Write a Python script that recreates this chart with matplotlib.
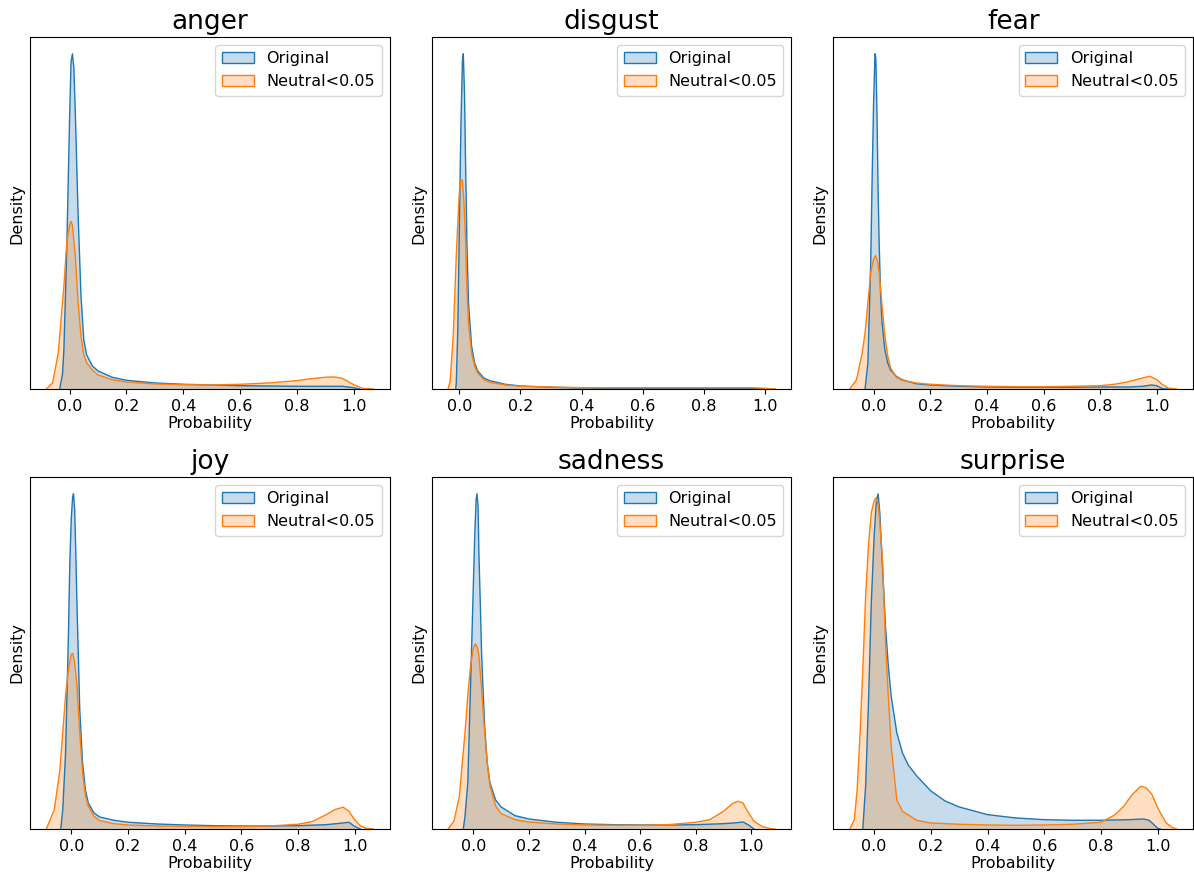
import matplotlib
matplotlib.use("Agg")
import matplotlib.pyplot as plt
from matplotlib.patches import Patch

plt.rcParams['font.family'] = ['DejaVu Sans']

EMOTIONS = ["anger", "disgust", "fear", "joy", "sadness", "surprise"]
SERIES_LABELS = ["Original", "Neutral<0.05"]
COLORS = ["#1f77b4", "#ff7f0e"]
XTICKS = [0.0, 0.2, 0.4, 0.6, 0.8, 1.0]

# Density curves (x = probability, y = density, arbitrary units)
ORIG_X = {
    "anger": [-0.035, -0.025, -0.02, -0.01, 0.0, 0.005, 0.01, 0.015, 0.02, 0.03, 0.04, 0.05, 0.06, 0.08, 0.1,
              0.15, 0.2, 0.3, 0.4, 0.5, 0.6, 0.7, 0.8, 0.9, 0.96, 1.0, 1.02],
    "disgust": [-0.012, -0.01, -0.005, 0.0, 0.005, 0.01, 0.013, 0.017, 0.02, 0.025, 0.03, 0.04, 0.05, 0.06, 0.08,
                0.1, 0.15, 0.2, 0.3, 0.4, 0.5, 0.7, 0.95, 1.0, 1.033],
    "fear": [-0.03, -0.02, -0.01, -0.005, 0.0, 0.005, 0.008, 0.012, 0.016, 0.02, 0.025, 0.03, 0.04, 0.05, 0.06,
             0.08, 0.1, 0.15, 0.2, 0.3, 0.4, 0.5, 0.7, 0.8, 0.9, 0.95, 0.98, 1.0, 1.02, 1.04],
    "joy": [-0.037, -0.03, -0.02, -0.01, -0.005, 0.0, 0.005, 0.008, 0.012, 0.016, 0.02, 0.025, 0.03, 0.04, 0.05,
            0.06, 0.08, 0.1, 0.15, 0.2, 0.3, 0.4, 0.5, 0.6, 0.7, 0.8, 0.9, 0.95, 0.98, 1.0, 1.02],
    "sadness": [-0.036, -0.03, -0.02, -0.01, 0.0, 0.005, 0.01, 0.013, 0.017, 0.02, 0.025, 0.03, 0.04, 0.05, 0.06,
                0.08, 0.1, 0.15, 0.2, 0.3, 0.4, 0.5, 0.6, 0.7, 0.8, 0.9, 0.95, 0.97, 0.99, 1.01],
    "surprise": [-0.04, -0.03, -0.02, -0.01, 0.0, 0.008, 0.014, 0.02, 0.03, 0.04, 0.05, 0.06, 0.08, 0.1, 0.12,
                 0.15, 0.2, 0.25, 0.3, 0.4, 0.5, 0.6, 0.7, 0.8, 0.9, 0.95, 0.97, 1.0, 1.01],
}
ORIG_Y = {
    "anger": [0, 1.5, 4.0, 14.0, 27.0, 32.6, 33.4, 32.0, 27.6, 17.3, 9.3, 4.9, 3.4, 2.3, 1.8,
              1.17, 0.87, 0.6, 0.47, 0.4, 0.33, 0.3, 0.27, 0.27, 0.27, 0.13, 0],
    "disgust": [0, 0.6, 6.0, 16.0, 26.0, 32.6, 33.4, 29.3, 23.3, 14.3, 8.6, 4.3, 2.6, 1.8, 1.1,
                0.83, 0.47, 0.3, 0.17, 0.1, 0.07, 0.07, 0.07, 0.03, 0],
    "fear": [0, 2.6, 12.6, 21.0, 28.3, 33.4, 33.0, 27.6, 19.9, 14.3, 9.3, 6.6, 3.9, 2.6, 1.9,
             1.27, 0.93, 0.53, 0.4, 0.27, 0.2, 0.17, 0.17, 0.2, 0.2, 0.27, 0.4, 0.33, 0.03, 0],
    "joy": [0, 1.9, 7.6, 19.3, 26.6, 30.9, 33.1, 33.4, 31.9, 27.6, 22.6, 17.3, 11.9, 6.6, 3.9,
            2.6, 1.6, 1.2, 0.87, 0.67, 0.5, 0.4, 0.33, 0.3, 0.3, 0.33, 0.43, 0.57, 0.67, 0.27, 0],
    "sadness": [0, 1.27, 4.6, 14.3, 24.3, 29.3, 32.9, 33.5, 32.3, 27.6, 22.6, 17.3, 10.6, 6.6, 4.6,
                2.9, 2.2, 1.33, 1.0, 0.67, 0.5, 0.43, 0.4, 0.4, 0.43, 0.53, 0.63, 0.7, 0.4, 0],
    "surprise": [0, 4.3, 12.6, 22.6, 29.3, 32.8, 33.5, 31.6, 25.9, 20.3, 16.3, 13.3, 9.6, 7.6, 6.4,
                 5.3, 3.8, 2.8, 2.2, 1.43, 1.1, 0.93, 0.87, 0.87, 0.93, 1.0, 0.87, 0.07, 0],
}
NEUT_X = {
    "anger": [-0.082, -0.06, -0.04, -0.02, -0.01, 0.0, 0.005, 0.01, 0.02, 0.03, 0.04, 0.05, 0.06, 0.08, 0.1,
              0.15, 0.2, 0.3, 0.4, 0.5, 0.6, 0.7, 0.8, 0.85, 0.9, 0.93, 0.96, 1.0, 1.03, 1.069],
    "disgust": [-0.037, -0.03, -0.02, -0.01, -0.005, 0.0, 0.005, 0.01, 0.015, 0.02, 0.025, 0.03, 0.04, 0.05,
                0.06, 0.08, 0.1, 0.15, 0.2, 0.3, 0.4, 0.7, 0.95, 1.0, 1.033],
    "fear": [-0.084, -0.06, -0.04, -0.03, -0.02, -0.01, 0.0, 0.007, 0.015, 0.02, 0.03, 0.04, 0.05, 0.06, 0.08,
             0.1, 0.15, 0.2, 0.3, 0.4, 0.5, 0.6, 0.7, 0.8, 0.85, 0.9, 0.95, 0.975, 1.0, 1.02, 1.04, 1.07],
    "joy": [-0.088, -0.06, -0.04, -0.03, -0.02, -0.01, 0.0, 0.005, 0.01, 0.015, 0.02, 0.03, 0.04, 0.05, 0.06,
            0.08, 0.1, 0.15, 0.2, 0.3, 0.4, 0.5, 0.6, 0.7, 0.8, 0.85, 0.9, 0.93, 0.96, 0.98, 1.0, 1.02, 1.04,
            1.066],
    "sadness": [-0.091, -0.07, -0.05, -0.04, -0.03, -0.02, -0.01, 0.0, 0.008, 0.015, 0.02, 0.03, 0.04, 0.05,
                0.06, 0.08, 0.1, 0.15, 0.2, 0.3, 0.4, 0.5, 0.6, 0.7, 0.8, 0.85, 0.9, 0.93, 0.95, 0.97, 0.99,
                1.01, 1.04, 1.07, 1.085],
    "surprise": [-0.086, -0.07, -0.06, -0.05, -0.04, -0.03, -0.02, -0.01, 0.0, 0.007, 0.015, 0.02, 0.03, 0.04,
                 0.05, 0.06, 0.08, 0.1, 0.15, 0.2, 0.3, 0.4, 0.5, 0.6, 0.7, 0.8, 0.85, 0.88, 0.91, 0.94, 0.96,
                 0.98, 1.0, 1.03, 1.05, 1.067],
}
NEUT_Y = {
    "anger": [0, 0.6, 3.6, 10.3, 14.6, 16.4, 16.7, 16.3, 13.3, 8.6, 5.3, 3.4, 2.6, 1.9, 1.4,
              0.93, 0.7, 0.5, 0.43, 0.4, 0.47, 0.6, 0.83, 1.03, 1.17, 1.2, 1.07, 0.43, 0.07, 0],
    "disgust": [0, 0.8, 5.3, 13.3, 16.6, 19.6, 20.8, 20.8, 18.6, 15.3, 10.0, 6.6, 3.6, 2.3,
                1.6, 0.93, 0.67, 0.4, 0.27, 0.2, 0.13, 0.13, 0.13, 0.07, 0],
    "fear": [0, 0.93, 3.6, 5.6, 8.6, 11.6, 12.9, 13.3, 12.6, 11.6, 8.3, 5.3, 3.3, 2.1, 1.17,
             0.87, 0.6, 0.47, 0.33, 0.27, 0.23, 0.23, 0.27, 0.33, 0.47, 0.73, 1.1, 1.27, 0.93, 0.43, 0.1, 0],
    "joy": [0, 1.9, 5.9, 9.6, 13.3, 15.9, 17.4, 17.5, 16.9, 15.8, 14.3, 9.6, 5.6, 3.3, 2.3,
            1.27, 0.83, 0.53, 0.4, 0.3, 0.27, 0.23, 0.23, 0.3, 0.47, 0.73, 1.43, 1.93, 2.17, 1.77, 0.93, 0.33,
            0.07, 0],
    "sadness": [0, 0.77, 3.3, 6.6, 9.6, 13.3, 16.3, 18.1, 18.5, 18.1, 17.3, 13.9, 9.9, 6.6,
                4.3, 2.3, 1.53, 0.93, 0.7, 0.5, 0.4, 0.37, 0.37, 0.43, 0.67, 0.93, 1.77, 2.5, 2.77, 2.6, 1.6,
                0.77, 0.23, 0.03, 0],
    "surprise": [0, 0.93, 3.9, 9.3, 15.9, 23.3, 28.3, 31.6, 32.8, 33.1, 32.3, 30.6, 26.6, 18.6,
                 13.3, 8.3, 2.9, 1.77, 0.87, 0.6, 0.47, 0.4, 0.37, 0.4, 0.47, 0.67, 1.43, 2.27, 3.43, 4.27, 4.1,
                 3.43, 2.1, 0.6, 0.17, 0],
}

fig, axes = plt.subplots(2, 3, figsize=(11.94, 8.75), dpi=100)
fig.subplots_adjust(left=0.0251, right=0.9992, top=0.9577, bottom=0.0526, wspace=0.117, hspace=0.25)

for ax, emo in zip(axes.flat, EMOTIONS):
    series = [(ORIG_X[emo], ORIG_Y[emo]), (NEUT_X[emo], NEUT_Y[emo])]
    for (xs, ys), c in zip(series, COLORS):
        ax.fill_between(xs, ys, 0, facecolor=c, alpha=0.25, linewidth=0)
        ax.plot(xs, ys, color=c, linewidth=1.0)
    lo = min(min(s[0]) for s in series)
    hi = max(max(s[0]) for s in series)
    w = hi - lo
    ax.set_xlim(lo - 0.05 * w, hi + 0.05 * w)
    ymax = max(max(s[1]) for s in series)
    ax.set_ylim(0, ymax * 1.05)
    ax.set_yticks([])
    ax.set_xticks(XTICKS)
    ax.set_xticklabels([f"{t:.1f}" for t in XTICKS], fontsize=11.5)
    ax.set_xlabel("Probability", fontsize=11.5, labelpad=2)
    ax.set_ylabel("Density", fontsize=11.5, labelpad=4)
    ax.set_title(emo, fontsize=19)
    handles = [Patch(facecolor=c, alpha=None, edgecolor=c, linewidth=1.0) for c in COLORS]
    for h, c in zip(handles, COLORS):
        h.set_facecolor(matplotlib.colors.to_rgba(c, 0.25))
    ax.legend(handles, SERIES_LABELS, loc="upper right", fontsize=11.5)

fig.savefig("out.png", dpi=100)
